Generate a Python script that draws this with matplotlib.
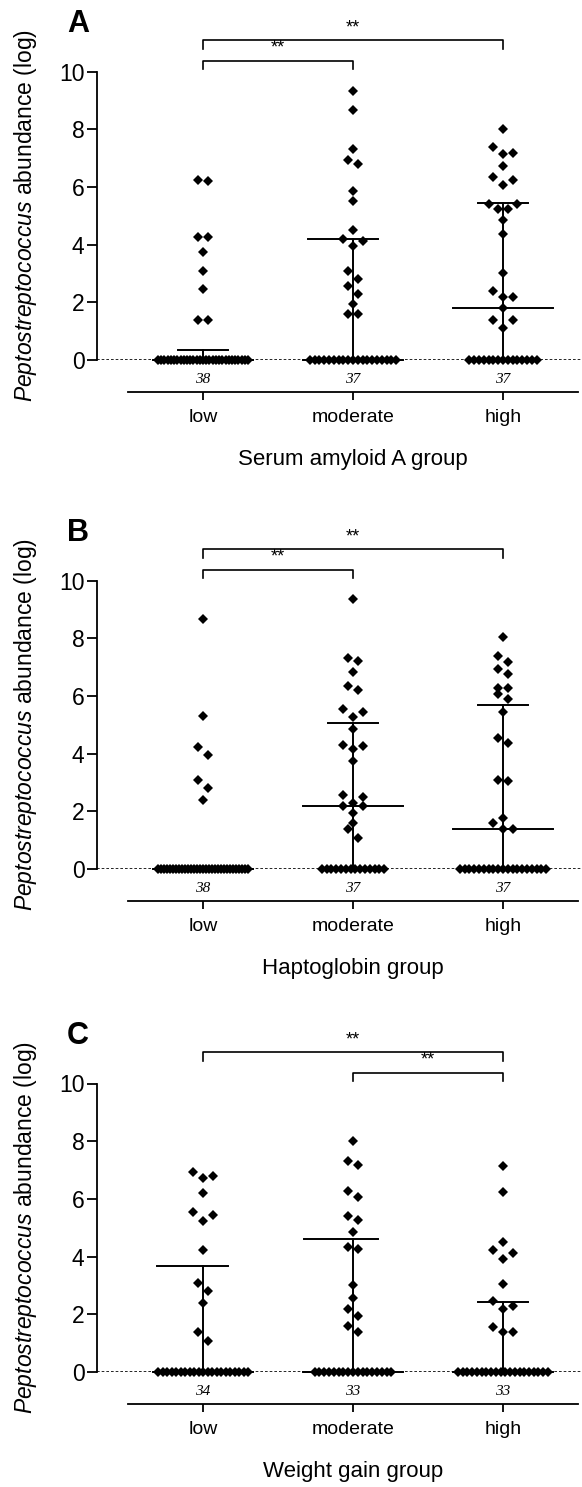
import matplotlib
matplotlib.use('Agg')
import matplotlib.pyplot as plt
import numpy as np

plt.rcParams['font.family'] = ['Liberation Sans', 'DejaVu Sans']
plt.rcParams['mathtext.fontset'] = 'custom'
plt.rcParams['mathtext.it'] = 'Liberation Sans:italic'
plt.rcParams['mathtext.rm'] = 'Liberation Sans'

groups = ['low', 'moderate', 'high']
tags = ['A', 'B', 'C']
xlabels = ['Serum amyloid A group', 'Haptoglobin group', 'Weight gain group']
ylabel = r'$\mathit{Peptostreptococcus}$ abundance (log)'

# group sizes (printed under the baseline); the rest of each group sits at 0
saa_n = [38, 37, 37]
hp_n = [38, 37, 37]
wg_n = [34, 33, 33]

# non-zero values
saa_low = [6.19, 6.25, 4.27, 4.25, 3.73, 3.08, 2.47, 1.37, 1.37]
saa_mod = [9.32, 8.65, 7.30, 6.92, 6.81, 5.87, 5.51, 4.50, 4.13, 4.21, 3.96,
           3.08, 2.81, 2.56, 2.29, 1.94, 1.59, 1.59]
saa_high = [8.02, 7.38, 7.15, 7.18, 6.72, 6.34, 6.08, 6.25, 5.42, 5.42, 5.25,
            5.25, 4.84, 4.36, 3.03, 2.39, 2.19, 2.19, 1.81, 1.38, 1.38, 1.10]

hp_low = [8.68, 5.31, 4.24, 3.96, 3.10, 2.82, 2.39]
hp_mod = [9.35, 7.32, 7.21, 6.82, 6.35, 6.20, 5.54, 5.43, 5.27, 4.87, 4.30,
          4.26, 4.15, 3.74, 2.58, 2.50, 2.29, 2.20, 2.20, 1.94, 1.60, 1.38, 1.09]
hp_high = [8.04, 7.40, 7.17, 6.93, 6.76, 6.26, 6.29, 6.08, 5.89, 5.45, 4.36,
           4.53, 3.07, 3.04, 1.78, 1.61, 1.38, 1.38]

wg_low = [6.81, 6.72, 6.93, 6.20, 5.44, 5.53, 5.25, 4.24, 3.08, 2.81, 2.39,
          1.38, 1.09]
wg_mod = [8.02, 7.30, 7.19, 6.26, 6.07, 5.39, 5.28, 4.84, 4.35, 4.27, 3.02,
          2.56, 2.19, 1.95, 1.60, 1.38]
wg_high = [7.13, 6.24, 4.50, 4.24, 4.12, 3.92, 3.06, 2.47, 2.30, 2.19, 1.57,
           1.38, 1.38]

# median with interquartile range
saa_med = [0, 0, 1.81]
saa_q1 = [0, 0, 0]
saa_q3 = [0.35, 4.20, 5.45]
hp_med = [0, 2.20, 1.38]
hp_q1 = [0, 0, 0]
hp_q3 = [0, 5.07, 5.67]
wg_med = [0, 0, 0]
wg_q1 = [0, 0, 0]
wg_q3 = [3.66, 4.61, 2.43]

# ** brackets, outer one first
saa_sig = [(0, 2), (0, 1)]
hp_sig = [(0, 2), (0, 1)]
wg_sig = [(0, 2), (1, 2)]

panels = [
    (saa_n, [saa_low, saa_mod, saa_high], saa_med, saa_q1, saa_q3, saa_sig),
    (hp_n, [hp_low, hp_mod, hp_high], hp_med, hp_q1, hp_q3, hp_sig),
    (wg_n, [wg_low, wg_mod, wg_high], wg_med, wg_q1, wg_q3, wg_sig),
]
# left reach of the upper cap (some caps in the original stick out further left)
cap_left = [[0.167, 0.30, 0.167], [0.167, 0.167, 0.167], [0.31, 0.33, 0.167]]


def spread(vals, step=0.064, zstep=0.032, maxw=0.6, gap=0.33):
    # graphpad-like column scatter: close values get laid side by side
    vals = sorted(vals)
    xs, ys = [], []
    i = 0
    while i < len(vals):
        j = i
        while j < len(vals) and vals[j] - vals[i] < gap:
            j += 1
        grp = vals[i:j]
        k = len(grp)
        s = zstep if grp[0] == 0 else step
        if k > 1:
            s = min(s, maxw / (k - 1))
        offs = (np.arange(k) - (k - 1) / 2.0) * s
        offs = sorted(offs, key=lambda o: (round(abs(o), 6), -o))
        xs.extend(offs)
        ys.extend(grp)
        i = j
    return np.array(xs), np.array(ys)


fig = plt.figure(figsize=(5.82, 14.87), dpi=100)
y0_px = [360, 869, 1372]
H = 1487.0

for p, (ns, vals, med, q1, q3, sig) in enumerate(panels):
    ax = fig.add_axes([97 / 582.0, (H - y0_px[p]) / H, 485 / 582.0, 288.5 / H])
    ax.set_xlim(-0.707, 2.527)
    ax.set_ylim(0, 10)
    ax.axhline(0, color='k', lw=1.2, ls=(0, (1.6, 1.2)), zorder=1)

    for g in range(3):
        allv = [0.0] * (ns[g] - len(vals[g])) + list(vals[g])
        dx, yy = spread(allv)
        # median + IQR
        ax.plot([g, g], [q1[g], q3[g]], color='k', lw=1.4, zorder=2, clip_on=False)
        ax.plot([g - 0.333, g + 0.333], [med[g], med[g]], color='k', lw=1.4, zorder=2, clip_on=False)
        for q in (q1[g], q3[g]):
            ax.plot([g - cap_left[p][g], g + 0.167], [q, q], color='k', lw=1.4, zorder=2, clip_on=False)
        ax.plot(g + dx, yy, 'D', ms=5.0, color='k', mew=0, zorder=3, clip_on=False)
        ax.text(g, -0.69, str(ns[g]), ha='center', va='center', fontsize=11,
                family=['Liberation Serif', 'DejaVu Serif'], style='italic')

    for b, (a, c) in enumerate(sig):
        yb = 11.08 if b == 0 else 10.38
        ax.plot([a, a, c, c], [yb - 0.3, yb, yb, yb - 0.3], color='k', lw=1.2, clip_on=False)
        ax.text((a + c) / 2.0, yb + 0.42, '**', ha='center', va='center', fontsize=13)

    for s in ('top', 'right'):
        ax.spines[s].set_visible(False)
    ax.spines['left'].set_bounds(0, 10)
    ax.spines['left'].set_linewidth(1.3)
    ax.spines['bottom'].set_position(('outward', 23))
    ax.spines['bottom'].set_bounds(-0.5, 2.5)
    ax.spines['bottom'].set_linewidth(1.3)

    ax.set_yticks(range(0, 11, 2))
    ax.set_xticks(range(3))
    ax.set_xticklabels(groups)
    ax.tick_params(axis='y', length=7, width=1.3, labelsize=16.5, pad=2)
    ax.tick_params(axis='x', length=6, width=1.3, labelsize=14, pad=6)

    ax.set_ylabel(ylabel, fontsize=16.5)
    ax.yaxis.set_label_coords(-0.12, 0.5)
    ax.set_xlabel(xlabels[p], fontsize=16)
    ax.xaxis.set_label_coords(0.528, -0.31)
    ax.xaxis.label.set_va('top')

    ax.text(-0.039, 1.166, tags[p], transform=ax.transAxes, ha='center', va='center',
            fontsize=22, fontweight='bold')

fig.savefig('out.png', dpi=100)
